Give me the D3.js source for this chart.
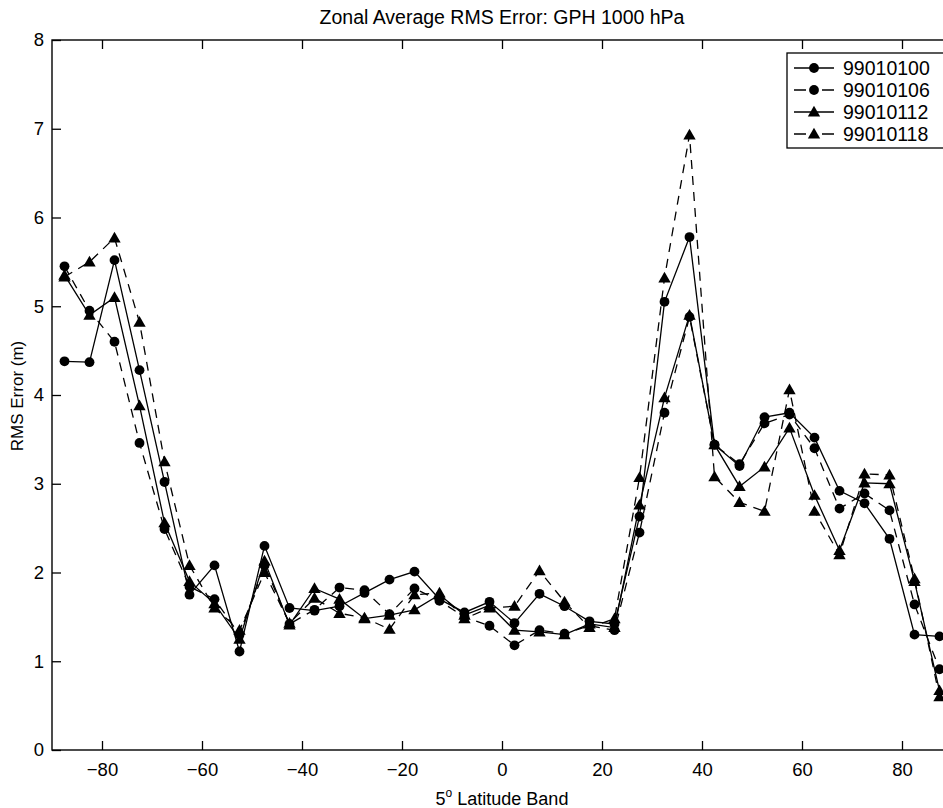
<!DOCTYPE html>
<html><head><meta charset="utf-8">
<script src="https://cdn.jsdelivr.net/npm/d3@7"></script>
<style>body{margin:0;background:#fff}svg{display:block}text{font-family:"Liberation Sans",Arial,Helvetica,sans-serif;fill:#000}</style>
</head><body><svg id="c" width="943" height="808"></svg>
<script>
const latitudes = [-87.5,-82.5,-77.5,-72.5,-67.5,-62.5,-57.5,-52.5,-47.5,-42.5,-37.5,-32.5,-27.5,-22.5,-17.5,-12.5,-7.5,-2.5,2.5,7.5,12.5,17.5,22.5,27.5,32.5,37.5,42.5,47.5,52.5,57.5,62.5,67.5,72.5,77.5,82.5,87.5];
const s99010100 = [4.38,4.37,5.52,4.28,3.02,1.75,2.08,1.11,2.30,1.60,1.57,1.62,1.77,1.92,2.01,1.70,1.55,1.67,1.43,1.76,1.62,1.45,1.42,2.63,5.05,5.78,3.44,3.20,3.75,3.80,3.52,2.92,2.78,2.38,1.30,1.28];
const s99010106 = [5.45,4.95,4.60,3.46,2.49,1.84,1.70,1.30,2.08,1.42,1.58,1.83,1.80,1.53,1.82,1.68,1.50,1.40,1.18,1.35,1.31,1.40,1.35,2.45,3.80,4.88,3.44,3.22,3.68,3.78,3.40,2.72,2.89,2.70,1.64,0.91];
const s99010112 = [5.35,4.90,5.10,3.88,2.56,1.90,1.65,1.25,2.13,1.41,1.82,1.70,1.48,1.52,1.58,1.75,1.52,1.63,1.35,1.33,1.30,1.42,1.38,2.76,3.97,4.90,3.44,2.97,3.19,3.63,2.87,2.25,3.01,3.00,1.90,0.67];
const s99010118 = [5.33,5.50,5.77,4.82,3.25,2.08,1.60,1.35,2.00,1.43,1.71,1.54,1.49,1.36,1.75,1.77,1.48,1.60,1.62,2.02,1.67,1.38,1.48,3.07,5.32,6.93,3.08,2.79,2.69,4.06,2.69,2.20,3.11,3.10,1.93,0.60];
const seriesNames = ["99010100","99010106","99010112","99010118"];
const xTicks = [-80,-60,-40,-20,0,20,40,60,80];
const yTicks = [0,1,2,3,4,5,6,7,8];

const series = [
  {name:seriesNames[0], values:s99010100, marker:"circle", dashed:false},
  {name:seriesNames[1], values:s99010106, marker:"circle", dashed:true},
  {name:seriesNames[2], values:s99010112, marker:"triangle", dashed:false},
  {name:seriesNames[3], values:s99010118, marker:"triangle", dashed:true}
];

const svg = d3.select("#c");
const L=52, R=952, T=40, B=750;
const x = d3.scaleLinear().domain([-90,90]).range([L,R]);
const y = d3.scaleLinear().domain([0,8]).range([B,T]);

const g = svg.append("g");
g.append("rect").attr("x",L).attr("y",T).attr("width",R-L).attr("height",B-T)
 .attr("fill","none").attr("stroke","#000").attr("stroke-width",1.4);

const tl = 9;
const xb = d3.axisBottom(x).tickValues(xTicks).tickSize(-tl).tickPadding(13).tickFormat(d=>d<0?"\u2212"+Math.abs(d):d);
const xt = d3.axisTop(x).tickValues(xTicks).tickSize(-tl).tickFormat("");
const yl = d3.axisLeft(y).tickValues(yTicks).tickSize(-tl).tickPadding(8);
const yr = d3.axisRight(y).tickValues(yTicks).tickSize(-tl).tickFormat("");
function style(sel){sel.select(".domain").remove();sel.selectAll("line").attr("stroke","#000").attr("stroke-width",1.3);sel.selectAll("text").style("font-size","18.5px").attr("fill","#000");}
g.append("g").attr("transform",`translate(0,${B})`).call(xb).call(style);
g.append("g").attr("transform",`translate(0,${T})`).call(xt).call(style);
g.append("g").attr("transform",`translate(${L},0)`).call(yl).call(style);
g.append("g").attr("transform",`translate(${R},0)`).call(yr).call(style);

const line = d3.line().x((d,i)=>x(latitudes[i])).y(d=>y(d));
const triPath = d3.symbol().type(d3.symbolTriangle).size(66)();
series.forEach(s=>{
  svg.append("path").datum(s.values).attr("d",line).attr("fill","none")
    .attr("stroke","#000").attr("stroke-width",1.3)
    .attr("stroke-dasharray",s.dashed?"9,7":null);
  const m = svg.append("g");
  s.values.forEach((v,i)=>{
    if(s.marker==="circle") m.append("circle").attr("cx",x(latitudes[i])).attr("cy",y(v)).attr("r",4.9).attr("fill","#000");
    else m.append("path").attr("d",triPath).attr("transform",`translate(${x(latitudes[i])},${y(v)+1})`).attr("fill","#000");
  });
});

svg.append("text").attr("x",502).attr("y",24).attr("text-anchor","middle").style("font-size","19.5px")
  .text("Zonal Average RMS Error: GPH 1000 hPa");
const xl = svg.append("text").attr("x",502).attr("y",805).attr("text-anchor","middle").style("font-size","18px");
xl.append("tspan").text("5");
xl.append("tspan").attr("dy",-8).style("font-size","12px").text("o");
xl.append("tspan").attr("dy",8).text(" Latitude Band");
svg.append("text").attr("transform","translate(23,396) rotate(-90)").attr("text-anchor","middle").style("font-size","17px")
  .text("RMS Error (m)");

const lg = svg.append("g");
lg.append("rect").attr("x",787).attr("y",53).attr("width",170).attr("height",95).attr("fill","#fff").attr("stroke","#000").attr("stroke-width",1.3);
series.forEach((s,i)=>{
  const yy = 68 + i*22;
  lg.append("line").attr("x1",794).attr("x2",834).attr("y1",yy).attr("y2",yy).attr("stroke","#000").attr("stroke-width",1.3)
    .attr("stroke-dasharray",s.dashed?"12,6,4,6,12":null);
  if(s.marker==="circle") lg.append("circle").attr("cx",814).attr("cy",yy).attr("r",4.9).attr("fill","#000");
  else lg.append("path").attr("d",triPath).attr("transform",`translate(814,${yy+1})`).attr("fill","#000");
  lg.append("text").attr("x",843).attr("y",yy+7).style("font-size","19.5px").text(s.name);
});
</script></body></html>
